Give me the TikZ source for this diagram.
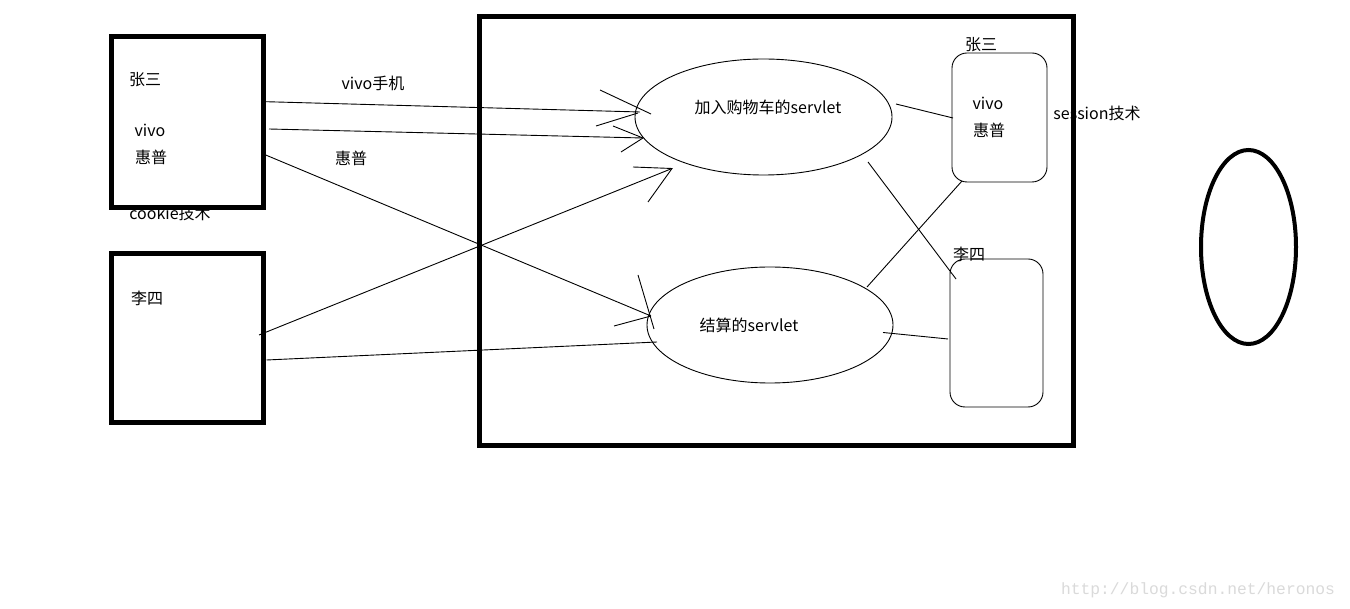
\documentclass[tikz,border=0pt]{standalone}
\usepackage{fontspec}
\setmainfont{Noto Sans CJK SC}
\newfontfamily\wmfont{Liberation Mono}
\usetikzlibrary{shapes.geometric}
\begin{document}
\begin{tikzpicture}[x=1pt,y=-1pt,
  lbl/.style={font=\fontsize{16}{19}\selectfont, inner sep=0pt, text=black},
  heavybox/.style={draw, line width=5pt, minimum width=0pt, inner sep=0pt},
  conn/.style={line width=0.9pt},
  servlet/.style={draw, ellipse, line width=0.9pt, inner sep=0pt},
  store/.style={draw, rounded corners=15pt, line width=0.9pt, inner sep=0pt},
]
\useasboundingbox[fill=white] (0,0) rectangle (1350,609);

% texts drawn below the boxes
\node[lbl] (cookie) at (170,213) {cookie技术};
\node[lbl] (zs2) at (981,45) {张三};
\node[lbl] (ls2) at (969,254) {李四};

% client boxes
\node[heavybox, minimum width=152pt, minimum height=171pt] (c1) at (187.5,122) {};
\node[heavybox, minimum width=152pt, minimum height=169pt] (c2) at (187.5,338.5) {};
\node[lbl] (zs1) at (145,80) {张三};
\node[lbl] (v1) at (150,130) {vivo};
\node[lbl] (h1) at (151,157) {惠普};
\node[lbl] (ls1) at (147,298) {李四};

% server box
\node[heavybox, minimum width=594pt, minimum height=429pt] (srv) at (776,231.5) {};

% servlets
\node[servlet, minimum width=257pt, minimum height=116pt] (e1) at (763.5,117) {};
\node[servlet, minimum width=246pt, minimum height=116pt] (e2) at (770,325) {};
\node[lbl] (t1) at (768,107) {加入购物车的servlet};
\node[lbl] (t2) at (749,325) {结算的servlet};

% session stores
\node[store, minimum width=95pt, minimum height=129pt] (s1) at (999.5,117.5) {};
\node[store, minimum width=93pt, minimum height=148pt] (s2) at (996.5,333) {};
\node[lbl] (v2) at (988,103) {vivo};
\node[lbl] (h2) at (989,130) {惠普};
\node[lbl] (sess) at (1097,113) {session技术};

% labels on connectors
\node[lbl] (lv) at (373,83) {vivo手机};
\node[lbl] (lh) at (351,158) {惠普};

% right ellipse
\coordinate (oval) at (1248.5,247);
\draw[line width=4pt] (oval) ellipse [x radius=47.5pt, y radius=97pt];

% watermark
\node[inner sep=0pt, font=\wmfont\fontsize{16.3}{18}\selectfont, text={rgb,255:red,218;green,218;blue,218}] (wm) at (1198,590) {http://blog.csdn.net/heronos};

% connector end points
\coordinate (a1) at (265.7,101.7); \coordinate (b1) at (640,112);
\coordinate (a2) at (269,129);     \coordinate (b2) at (643,138);
\coordinate (a3) at (259,335);     \coordinate (b3) at (672,168.5);
\coordinate (a4) at (265.7,155);   \coordinate (b4) at (651,316);
\coordinate (a5) at (266.5,360);   \coordinate (b5) at (657,342);
\coordinate (a6) at (896,104);     \coordinate (b6) at (953,118);
\coordinate (a7) at (868,162);     \coordinate (b7) at (956,279);
\coordinate (a8) at (867,287);     \coordinate (b8) at (962,181);
\coordinate (a9) at (883,332.5);   \coordinate (b9) at (948,339);

\draw[conn] (a1) -- (b1);
\draw[conn] (a2) -- (b2);
\draw[conn] (a3) -- (b3);
\draw[conn] (a4) -- (b4);
\draw[conn] (a5) -- (b5);
\draw[conn] (a6) -- (b6);
\draw[conn] (a7) -- (b7);
\draw[conn] (a8) -- (b8);
\draw[conn] (a9) -- (b9);

% hand-drawn arrow heads
\draw[conn] (600,90) -- (651,114);
\draw[conn] (596,126) -- (638,113);
\draw[conn] (613,126) -- (b2) -- (621,152);
\draw[conn] (633,167) -- (b3) -- (648,202);
\draw[conn] (638,275) -- (654,329);
\draw[conn] (614,326) -- (b4);
\end{tikzpicture}
\end{document}
